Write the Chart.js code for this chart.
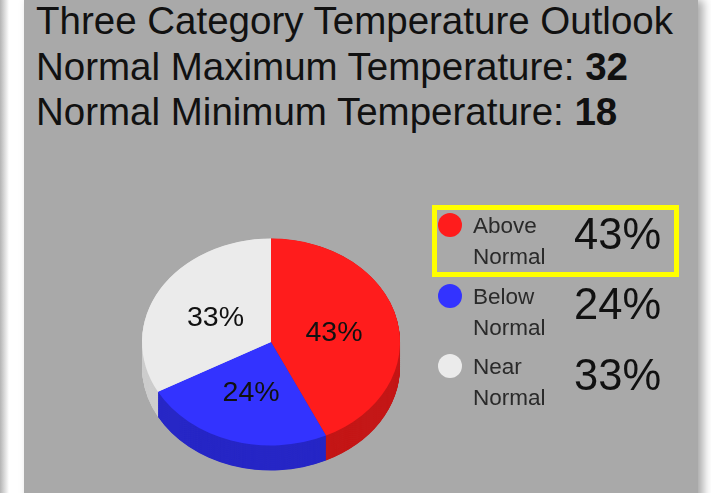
<!DOCTYPE html>
<html>
<head>
<meta charset="utf-8">
<script src="https://cdn.jsdelivr.net/npm/chart.js@4"></script>
<style>
  html, body { margin: 0; padding: 0; background: #fff; }
  body { width: 711px; height: 493px; overflow: hidden; position: relative; font-family: "Liberation Sans", Arial, sans-serif; }
  #edge { position: absolute; left: 0; top: 0; width: 9px; height: 493px; background: linear-gradient(to right, #b4b4b4, #fff); }
  #panel { position: absolute; left: 24px; top: 0; width: 674px; height: 520px; background: #a9a9a9; box-shadow: 5px 0 9px rgba(0,0,0,0.35); }
  #title { position: absolute; left: 36px; top: -2px; font-size: 38.5px; line-height: 45.5px; color: #111; white-space: nowrap; }
  #chart-wrap { position: absolute; left: 0; top: 0; width: 711px; height: 493px; }
  .legend-row { position: absolute; left: 0; top: 0; }
  .dot { position: absolute; width: 24px; height: 24px; border-radius: 50%; }
  .lbl { position: absolute; font-size: 22.5px; line-height: 31px; color: #2a2a2a; white-space: nowrap; }
  .pct { position: absolute; font-size: 43.5px; line-height: 44px; color: #111; white-space: nowrap; }
  #highlight { position: absolute; left: 432px; top: 205px; width: 237px; height: 62px; border: 5px solid #ffff00; }
</style>
</head>
<body>
<div id="edge"></div>
<div id="panel"></div>
<div id="title"></div>
<div id="chart-wrap"><canvas id="pie" width="711" height="493"></canvas></div>
<div id="legend"></div>
<div id="highlight"></div>
<script>
// 見出しの値
const titleText = 'Three Category Temperature Outlook';
const normalMax = 32;
const normalMin = 18;

// カテゴリと確率
const categories = ['Above Normal', 'Below Normal', 'Near Normal'];
const labelLines = [['Above', 'Normal'], ['Below', 'Normal'], ['Near', 'Normal']];
const percents = [43, 24, 33];
const topColors = ['#ff1c1c', '#3333ff', '#ebebeb'];
const sideColors = ['#c41717', '#2727c6', '#cdcdcd'];
const highlightIndex = 0;

// 3D表示の傾きと厚み
const tilt = 0.802;
const depth = 25;

/**
 * タイトル描画
 */
function drawTitle() {
  const el = document.getElementById('title');
  el.innerHTML =
    '<div>' + titleText + '</div>' +
    '<div>Normal Maximum Temperature: <b>' + normalMax + '</b></div>' +
    '<div>Normal Minimum Temperature: <b>' + normalMin + '</b></div>';
}

/**
 * 凡例描画
 */
function drawLegend() {
  const legend = document.getElementById('legend');
  const rowGap = 70.5;
  categories.forEach((cat, i) => {
    const off = i * rowGap;
    const row = document.createElement('div');
    row.className = 'legend-row';
    row.title = cat;
    // baseline = top + (lineHeight - size*1.117)/2 + size*0.905
    const lblTop = 233.5 - ((31 - 22.5 * 1.117) / 2 + 22.5 * 0.905) + off;
    const pctTop = 249 - ((44 - 43.5 * 1.117) / 2 + 43.5 * 0.905) + off;
    row.innerHTML = `
      <div class="dot" style="left:438px; top:${213 + off}px; background:${topColors[i]}"></div>
      <div class="lbl" style="left:473px; top:${lblTop}px">${labelLines[i][0]}<br>${labelLines[i][1]}</div>
      <div class="pct" style="left:574px; top:${pctTop}px">${percents[i]}%</div>
    `;
    legend.appendChild(row);
  });
  const hl = document.getElementById('highlight');
  hl.style.top = (205 + highlightIndex * rowGap) + 'px';
}

/**
 * 3Dパイ用プラグイン（楕円化＋側面）
 */
const pie3d = {
  id: 'pie3d',
  beforeDatasetsDraw(chart) {
    const ctx = chart.ctx;
    const arcs = chart.getDatasetMeta(0).data;
    const cx = arcs[0].x;
    const cy = arcs[0].y;
    ctx.save();
    ctx.translate(cx, cy);
    ctx.scale(1, tilt);
    ctx.translate(-cx, -cy);
    // 側面を下から積み上げる
    for (let d = depth / tilt; d > 0; d -= 0.5) {
      arcs.forEach((a, i) => {
        ctx.beginPath();
        ctx.moveTo(a.x, a.y + d);
        ctx.arc(a.x, a.y + d, a.outerRadius, a.startAngle, a.endAngle);
        ctx.closePath();
        ctx.fillStyle = sideColors[i];
        ctx.fill();
      });
    }
  },
  afterDatasetsDraw(chart) {
    const ctx = chart.ctx;
    ctx.restore();
    const arcs = chart.getDatasetMeta(0).data;
    ctx.save();
    ctx.font = '28.5px "Liberation Sans", Arial, sans-serif';
    ctx.fillStyle = '#111';
    ctx.textAlign = 'center';
    ctx.textBaseline = 'middle';
    arcs.forEach((a, i) => {
      const p = a.tooltipPosition(true);
      const y = a.y + (p.y - a.y) * tilt;
      ctx.fillText(percents[i] + '%', p.x, y + 2);
    });
    ctx.restore();
  }
};

function drawPie() {
  const ctx = document.getElementById('pie');
  new Chart(ctx, {
    type: 'pie',
    data: {
      labels: categories,
      datasets: [{
        data: percents,
        backgroundColor: topColors,
        borderWidth: 0,
        clip: false
      }]
    },
    options: {
      responsive: false,
      animation: false,
      events: [],
      layout: {
        padding: { left: 142, right: 311, top: 213, bottom: 22 }
      },
      plugins: {
        legend: { display: false },
        tooltip: { enabled: false }
      }
    },
    plugins: [pie3d]
  });
}

drawTitle();
drawLegend();
drawPie();
</script>
</body>
</html>
